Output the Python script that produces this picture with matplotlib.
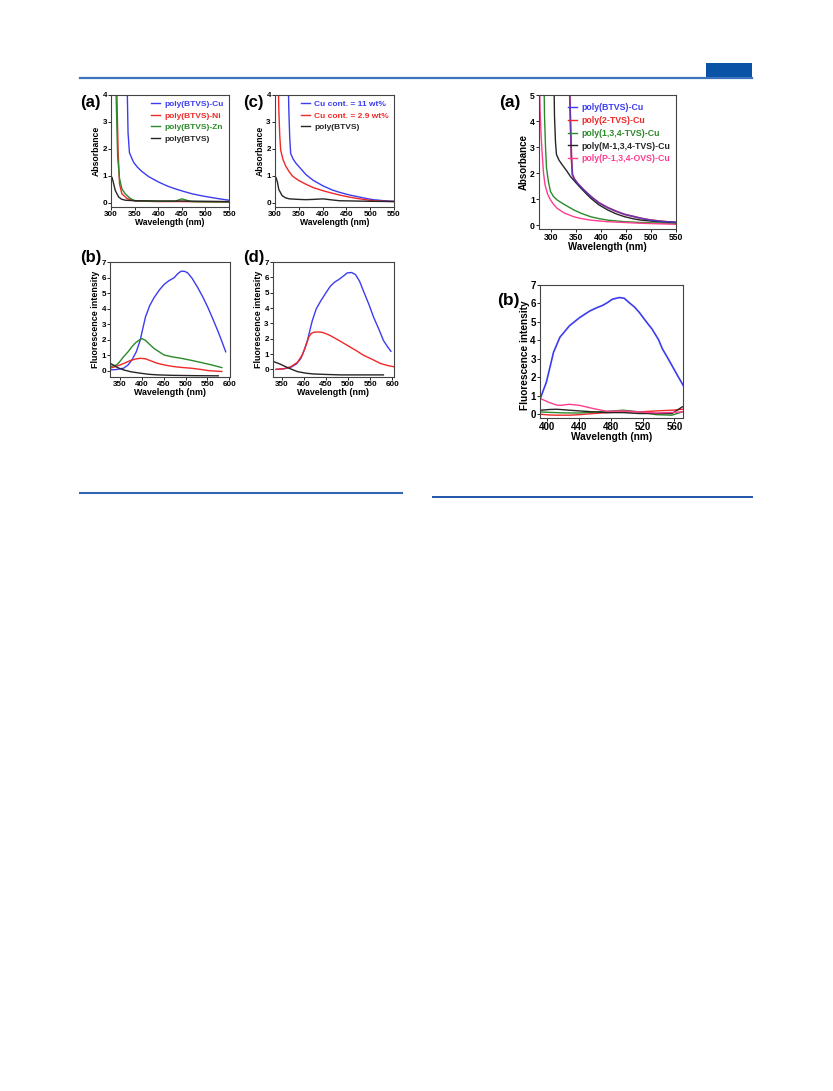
import numpy as np
import matplotlib
matplotlib.use("Agg")
import matplotlib.pyplot as plt
from matplotlib.lines import Line2D
from matplotlib.patches import Rectangle

plt.rcParams['font.family'] = ['Liberation Sans', 'DejaVu Sans']
plt.rcParams['font.weight'] = 'bold'
plt.rcParams['axes.labelweight'] = 'bold'

BLUE = '#3c3cf0'
RED = '#f02828'
GREEN = '#2a8a2a'
BLACK = '#262626'
PINK = '#ff3d8f'

#---- (a) izquierda: absorbancia con metales
a_cu_x = [334, 336, 339, 344, 348, 356, 365, 380, 401, 420, 436, 455, 471, 490, 506, 530, 550]
a_cu_y = [4.5, 2.6, 1.86, 1.65, 1.5, 1.32, 1.17, 0.97, 0.77, 0.62, 0.52, 0.42, 0.34, 0.27, 0.22, 0.15, 0.1]
a_ni_x = [312, 313, 315, 318, 323, 334, 351, 400, 450, 500, 550]
a_ni_y = [4.5, 3.5, 1.9, 0.7, 0.34, 0.16, 0.07, 0.05, 0.05, 0.04, 0.03]
a_zn_x = [310, 311, 314, 318, 323, 330, 341, 351, 400, 435, 445, 450, 456, 470, 500, 550]
a_zn_y = [4.5, 3.8, 1.7, 0.9, 0.52, 0.34, 0.16, 0.08, 0.06, 0.06, 0.12, 0.15, 0.12, 0.05, 0.04, 0.04]
a_bt_x = [300, 302, 305, 309, 316, 322, 330, 350, 400, 450, 500, 550]
a_bt_y = [0.85, 0.95, 0.75, 0.46, 0.22, 0.14, 0.1, 0.08, 0.07, 0.07, 0.06, 0.05]

#---- (c) izquierda: contenido de Cu
c_11_x = [328, 329, 331, 333, 338, 344, 355, 365, 380, 401, 420, 436, 455, 471, 490, 506, 530, 550]
c_11_y = [4.5, 3.5, 2.4, 1.83, 1.63, 1.47, 1.25, 1.05, 0.84, 0.63, 0.48, 0.39, 0.3, 0.24, 0.17, 0.12, 0.08, 0.06]
c_29_x = [307, 308, 310, 312, 317, 323, 330, 337, 350, 365, 380, 401, 420, 436, 455, 471, 490, 506, 530, 550]
c_29_y = [4.5, 3.5, 2.5, 1.95, 1.6, 1.35, 1.15, 0.99, 0.83, 0.69, 0.57, 0.45, 0.36, 0.29, 0.22, 0.17, 0.12, 0.08, 0.06, 0.05]
c_bt_x = [300, 302, 305, 308, 315, 322, 330, 350, 365, 380, 401, 420, 436, 470, 500, 550]
c_bt_y = [0.9, 0.95, 0.78, 0.5, 0.27, 0.19, 0.15, 0.13, 0.12, 0.13, 0.15, 0.11, 0.08, 0.07, 0.06, 0.05]

#---- (b) izquierda: fluorescencia con metales
b_cu_x = [327, 340, 358, 368, 377, 387, 396, 402, 408, 418, 428, 440, 451, 462, 474, 482, 490, 498, 505, 515, 528, 540, 551, 563, 575, 584, 592]
b_cu_y = [0.04, 0.06, 0.15, 0.35, 0.68, 1.2, 1.95, 2.7, 3.44, 4.2, 4.71, 5.2, 5.56, 5.8, 5.99, 6.25, 6.41, 6.4, 6.3, 5.95, 5.35, 4.72, 4.08, 3.3, 2.48, 1.82, 1.21]
b_zn_x = [327, 342, 350, 358, 368, 377, 385, 393, 400, 408, 418, 428, 440, 451, 470, 490, 513, 537, 560, 583]
b_zn_y = [0.25, 0.36, 0.6, 0.89, 1.2, 1.53, 1.78, 1.95, 2.06, 1.95, 1.68, 1.42, 1.2, 1.0, 0.88, 0.79, 0.66, 0.51, 0.36, 0.19]
b_ni_x = [327, 340, 350, 362, 373, 385, 396, 408, 420, 435, 455, 474, 495, 513, 535, 551, 570, 583]
b_ni_y = [0.15, 0.26, 0.36, 0.5, 0.64, 0.74, 0.79, 0.76, 0.63, 0.47, 0.34, 0.25, 0.19, 0.15, 0.07, 0.0, -0.04, -0.06]
b_bt_x = [325, 334, 345, 358, 375, 396, 415, 435, 470, 520, 575]
b_bt_y = [0.51, 0.36, 0.18, 0.04, -0.08, -0.17, -0.24, -0.28, -0.31, -0.33, -0.34]

#---- (d) izquierda: fluorescencia contenido de Cu
d_11_x = [337, 355, 370, 383, 393, 400, 408, 414, 419, 428, 438, 450, 460, 470, 479, 490, 498, 508, 517, 526, 535, 547, 558, 570, 580, 590, 597]
d_11_y = [0.0, 0.04, 0.13, 0.35, 0.71, 1.2, 1.89, 2.6, 3.18, 3.95, 4.46, 5.0, 5.43, 5.7, 5.86, 6.1, 6.29, 6.32, 6.18, 5.75, 5.1, 4.25, 3.39, 2.6, 1.89, 1.45, 1.18]
d_29_x = [337, 355, 370, 385, 396, 404, 411, 416, 422, 432, 441, 450, 460, 480, 498, 517, 535, 555, 573, 590, 604]
d_29_y = [0.0, 0.05, 0.17, 0.45, 0.92, 1.5, 2.1, 2.33, 2.42, 2.44, 2.42, 2.33, 2.2, 1.88, 1.57, 1.25, 0.92, 0.65, 0.39, 0.25, 0.17]
d_bt_x = [333, 345, 356, 370, 386, 405, 422, 450, 483, 530, 580]
d_bt_y = [0.49, 0.36, 0.21, 0.03, -0.15, -0.25, -0.3, -0.33, -0.36, -0.36, -0.36]

#---- (a) derecha: absorbancia de varios polimeros con Cu
r_bt_x = [336, 338, 340, 342, 346, 352, 365, 379, 395, 413, 430, 447, 465, 480, 497, 514, 530, 552]
r_bt_y = [5.5, 4.0, 2.6, 1.94, 1.77, 1.61, 1.35, 1.1, 0.86, 0.67, 0.53, 0.41, 0.33, 0.26, 0.2, 0.16, 0.13, 0.1]
r_tv_x = [285, 286, 288, 290, 294, 298, 304, 311, 325, 345, 360, 379, 395, 413, 430, 447, 480, 514, 552]
r_tv_y = [5.5, 4.2, 3.0, 2.2, 1.65, 1.29, 1.1, 0.97, 0.8, 0.58, 0.45, 0.32, 0.25, 0.19, 0.16, 0.13, 0.1, 0.08, 0.06]
r_m_x = [305, 306, 308, 310, 315, 321, 330, 338, 348, 359, 370, 379, 395, 413, 430, 447, 465, 480, 514, 552]
r_m_y = [5.5, 4.2, 3.2, 2.71, 2.5, 2.33, 2.1, 1.87, 1.65, 1.42, 1.2, 1.03, 0.78, 0.58, 0.43, 0.32, 0.24, 0.19, 0.13, 0.1]
r_p_x = [276, 277, 279, 281, 284, 287, 292, 298, 304, 311, 325, 345, 360, 379, 413, 447, 480, 514, 552]
r_p_y = [5.5, 4.5, 3.5, 2.84, 2.0, 1.55, 1.2, 0.97, 0.8, 0.65, 0.47, 0.32, 0.25, 0.19, 0.13, 0.1, 0.07, 0.05, 0.03]

#---- (b) derecha: fluorescencia
f_x = [385, 392, 399, 408, 416, 428, 441, 454, 462, 470, 476, 482, 491, 497, 503, 510, 516, 524, 532, 540, 545, 551, 557, 564, 570, 576]
f_bt = [0.6, 0.93, 1.74, 3.36, 4.17, 4.79, 5.24, 5.6, 5.76, 5.9, 6.05, 6.23, 6.32, 6.28, 6.05, 5.8, 5.51, 5.05, 4.61, 4.05, 3.54, 3.1, 2.64, 2.1, 1.65, 1.2]
f2_x = [385, 392, 403, 412, 416, 428, 441, 458, 475, 496, 516, 537, 557, 570, 576]
f_p = [0.9, 0.84, 0.63, 0.5, 0.48, 0.54, 0.48, 0.31, 0.16, 0.18, 0.13, 0.07, 0.1, 0.13, 0.14]
f_m = [0.2, 0.22, 0.26, 0.27, 0.26, 0.22, 0.18, 0.13, 0.09, 0.09, 0.04, 0.04, 0.04, 0.4, 0.5]
f_134 = [0.12, 0.13, 0.1, 0.09, 0.08, 0.07, 0.07, 0.12, 0.16, 0.22, 0.13, -0.02, -0.05, 0.13, 0.2]
f_2 = [0.0, 0.0, -0.04, -0.05, -0.05, -0.05, -0.02, 0.04, 0.09, 0.13, 0.13, 0.18, 0.22, 0.27, 0.28]

fig = plt.figure(figsize=(8.33, 10.91), dpi=100)


def style(ax, xlim, ylim, xticks, yticks, fs, lfs, ylabel, ypad=1):
    ax.set_xlim(xlim)
    ax.set_ylim(ylim)
    ax.set_xticks(xticks)
    ax.set_yticks(yticks)
    ax.tick_params(labelsize=fs, length=2, width=0.6, pad=1)
    for lab in ax.get_xticklabels() + ax.get_yticklabels():
        lab.set_fontweight('bold')
    for s in ax.spines.values():
        s.set_linewidth(0.8)
        s.set_color('#444444')
    ax.set_xlabel('Wavelength (nm)', fontsize=lfs, labelpad=0)
    ax.set_ylabel(ylabel, fontsize=lfs, labelpad=ypad)


def leyenda(ax, fs, handles=None, labels=None):
    kw = dict(loc='upper right', frameon=False, handlelength=1.1,
              labelspacing=0.45, handletextpad=0.5, borderaxespad=0.25,
              labelcolor='linecolor', prop={'weight': 'bold', 'size': fs})
    if handles is None:
        return ax.legend(**kw)
    return ax.legend(handles, labels, **kw)


lw = 1.0

# (a) izq
ax = fig.add_axes([0.1333, 0.8103, 0.1417, 0.1027])
ax.plot(a_cu_x, a_cu_y, color=BLUE, lw=lw, label='poly(BTVS)-Cu')
ax.plot(a_ni_x, a_ni_y, color=RED, lw=lw, label='poly(BTVS)-Ni')
ax.plot(a_zn_x, a_zn_y, color=GREEN, lw=lw, label='poly(BTVS)-Zn')
ax.plot(a_bt_x, a_bt_y, color=BLACK, lw=lw, label='poly(BTVS)')
style(ax, (300, 550), (-0.15, 4), [300, 350, 400, 450, 500, 550], [0, 1, 2, 3, 4], 5.8, 6.2, 'Absorbance')
leyenda(ax, 6.0)
fig.text(0.096, 0.902, '(a)', fontsize=12, fontweight='bold')

# (c) izq
ax = fig.add_axes([0.3301, 0.8103, 0.1429, 0.1027])
ax.plot(c_11_x, c_11_y, color=BLUE, lw=lw, label='Cu cont. = 11 wt%')
ax.plot(c_29_x, c_29_y, color=RED, lw=lw, label='Cu cont. = 2.9 wt%')
ax.plot(c_bt_x, c_bt_y, color=BLACK, lw=lw, label='poly(BTVS)')
style(ax, (300, 550), (-0.15, 4), [300, 350, 400, 450, 500, 550], [0, 1, 2, 3, 4], 5.8, 6.2, 'Absorbance')
leyenda(ax, 6.0)
fig.text(0.292, 0.902, '(c)', fontsize=12, fontweight='bold')

# (b) izq
ax = fig.add_axes([0.1321, 0.6544, 0.1441, 0.1054])
ax.plot(b_cu_x, b_cu_y, color=BLUE, lw=lw)
ax.plot(b_zn_x, b_zn_y, color=GREEN, lw=lw)
ax.plot(b_ni_x, b_ni_y, color=RED, lw=lw)
ax.plot(b_bt_x, b_bt_y, color=BLACK, lw=lw)
style(ax, (327, 602), (-0.42, 7), [350, 400, 450, 500, 550, 600], list(range(8)), 5.8, 6.4, 'Fluorescence intensity')
fig.text(0.096, 0.760, '(b)', fontsize=12, fontweight='bold')

# (d) izq
ax = fig.add_axes([0.3277, 0.6544, 0.1453, 0.1054])
ax.plot(d_11_x, d_11_y, color=BLUE, lw=lw)
ax.plot(d_29_x, d_29_y, color=RED, lw=lw)
ax.plot(d_bt_x, d_bt_y, color=BLACK, lw=lw)
style(ax, (330, 604), (-0.5, 7), [350, 400, 450, 500, 550, 600], list(range(8)), 5.8, 6.4, 'Fluorescence intensity')
fig.text(0.292, 0.760, '(d)', fontsize=12, fontweight='bold')

# (a) der
ax = fig.add_axes([0.6471, 0.7901, 0.1645, 0.1228])
ax.plot(r_bt_x, r_bt_y, color=RED, lw=lw * 1.3)
ax.plot(r_tv_x, r_tv_y, color=GREEN, lw=lw)
ax.plot(r_m_x, r_m_y, color=BLACK, lw=lw)
ax.plot(r_p_x, r_p_y, color=PINK, lw=lw)
ax.plot(r_bt_x, r_bt_y, color='#3a3ae8', lw=lw * 1.1, alpha=0.75)
handles = [Line2D([], [], color=BLUE, lw=lw), Line2D([], [], color=RED, lw=lw),
           Line2D([], [], color=GREEN, lw=lw), Line2D([], [], color=BLACK, lw=lw),
           Line2D([], [], color=PINK, lw=lw)]
labels = ['poly(BTVS)-Cu', 'poly(2-TVS)-Cu', 'poly(1,3,4-TVS)-Cu', 'poly(M-1,3,4-TVS)-Cu', 'poly(P-1,3,4-OVS)-Cu']
leg = leyenda(ax, 6.3, handles, labels)
leg.set_bbox_to_anchor((1.0, 0.985), transform=ax.transAxes)
style(ax, (275, 550), (-0.15, 5), [300, 350, 400, 450, 500, 550], [0, 1, 2, 3, 4, 5], 6.2, 7.0, 'Absorbance')
fig.text(0.599, 0.902, '(a)', fontsize=12.5, fontweight='bold')

# (b) der
ax = fig.add_axes([0.6483, 0.6169, 0.1717, 0.1219])
ax.plot(f2_x, f_2, color=RED, lw=lw)
ax.plot(f2_x, f_134, color=GREEN, lw=lw)
ax.plot(f2_x, f_m, color=BLACK, lw=lw)
ax.plot(f2_x, f_p, color=PINK, lw=lw)
ax.plot(f_x, f_bt, color=BLUE, lw=lw * 1.2)
style(ax, (391, 571), (-0.2, 7), [400, 440, 480, 520, 560], list(range(8)), 7.0, 7.3, 'Fluorescence intensity', ypad=0)
ax.yaxis.label.set_position((0, 0.47))
fig.text(0.597, 0.7204, '(b)', fontsize=12.5, fontweight='bold')

#---- lineas de la pagina
fig.add_artist(Line2D([0.096, 0.903], [0.9285, 0.9285], color='#3b74bd', lw=1.6))
fig.add_artist(Rectangle((0.8475, 0.9285), 0.0555, 0.0137, color='#0a52a5', lw=0))
fig.add_artist(Line2D([0.096, 0.4826], [0.5481, 0.5481], color='#2f66b3', lw=1.5))
fig.add_artist(Line2D([0.5198, 0.903], [0.5445, 0.5445], color='#1f55a8', lw=1.4))

fig.savefig('out.png', dpi=100)
